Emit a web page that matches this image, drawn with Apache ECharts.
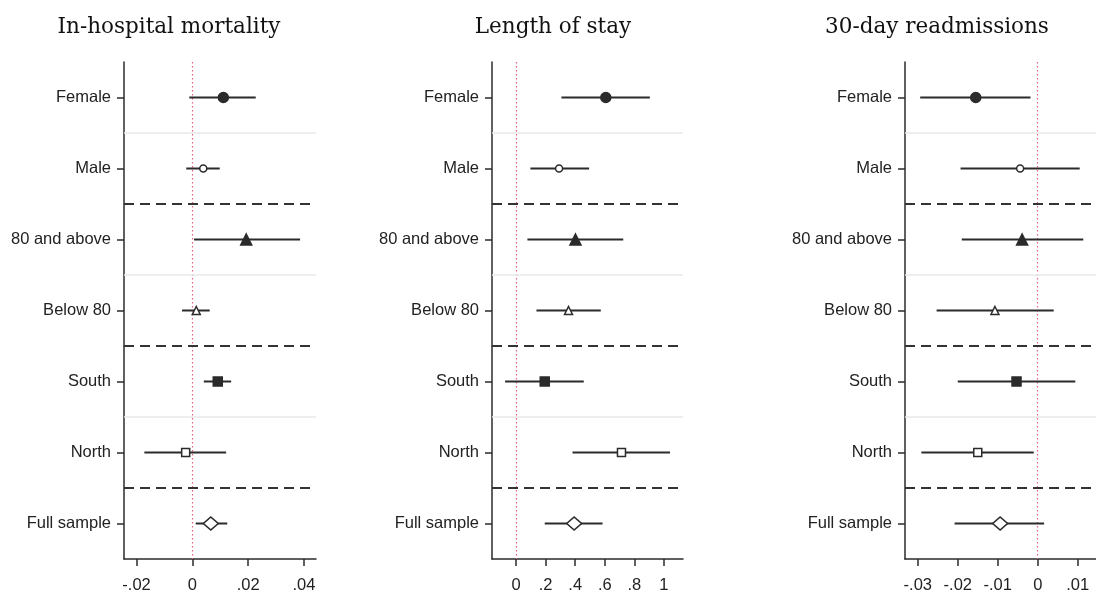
<!DOCTYPE html>
<html>
<head>
<meta charset="utf-8">
<script src="https://cdn.jsdelivr.net/npm/echarts@6/dist/echarts.min.js"></script>
<style>
html,body{margin:0;padding:0;background:#fff;}
#chart{width:1096px;height:597px;}
</style>
</head>
<body>
<div id="chart"></div>
<script>
// ---- data ----
const categories = ['Female', 'Male', '80 and above', 'Below 80', 'South', 'North', 'Full sample'];
const panelTitles = ['In-hospital mortality', 'Length of stay', '30-day readmissions'];

const mortalityEst  = [0.0111, 0.0039, 0.0193, 0.0014, 0.0091, -0.0024, 0.0066];
const mortalityLow  = [-0.0011, -0.0022, 0.0006, -0.0037, 0.0041, -0.0172, 0.0012];
const mortalityHigh = [0.0227, 0.0098, 0.0386, 0.0062, 0.0139, 0.0121, 0.0125];

const stayEst  = [0.607, 0.291, 0.402, 0.355, 0.194, 0.713, 0.393];
const stayLow  = [0.307, 0.097, 0.077, 0.138, -0.074, 0.382, 0.194];
const stayHigh = [0.905, 0.494, 0.725, 0.573, 0.458, 1.041, 0.585];

const readmitEst  = [-0.0155, -0.0044, -0.0039, -0.0107, -0.0053, -0.0150, -0.0094];
const readmitLow  = [-0.0294, -0.0193, -0.0190, -0.0253, -0.0200, -0.0291, -0.0208];
const readmitHigh = [-0.0018, 0.0105, 0.0114, 0.0040, 0.0094, -0.0010, 0.0016];

const mortalityTicks = [-0.02, 0, 0.02, 0.04];
const stayTicks = [0, 0.2, 0.4, 0.6, 0.8, 1];
const readmitTicks = [-0.03, -0.02, -0.01, 0, 0.01];

const mortalityRange = [-0.0245, 0.0443];
const stayRange = [-0.1625, 1.129];
const readmitRange = [-0.0332, 0.01458];

// ---- styles ----
const INK = '#2b2b2b';
const markerStyles = [
  {symbol: 'circle', size: 10, fill: INK},
  {symbol: 'circle', size: 7, fill: '#fff'},
  {symbol: 'triangle', size: 11, fill: INK},
  {symbol: 'triangle', size: 8, fill: '#fff'},
  {symbol: 'rect', size: 9, fill: INK},
  {symbol: 'rect', size: 8, fill: '#fff'},
  {symbol: 'diamond', size: [15, 13], fill: '#fff'}
];

const panels = [
  {est: mortalityEst, low: mortalityLow, high: mortalityHigh, ticks: mortalityTicks, range: mortalityRange,
   grid: {left: 124, top: 62, width: 192, height: 497}, titleX: 169},
  {est: stayEst, low: stayLow, high: stayHigh, ticks: stayTicks, range: stayRange,
   grid: {left: 492, top: 62, width: 191, height: 497}, titleX: 553},
  {est: readmitEst, low: readmitLow, high: readmitHigh, ticks: readmitTicks, range: readmitRange,
   grid: {left: 905, top: 62, width: 191, height: 497}, titleX: 937}
];

function fmt(v) {
  if (Math.abs(v) < 1e-12) return '0';
  const s = parseFloat(Math.abs(v).toFixed(4)).toString().replace(/^0\./, '.');
  return (v < 0 ? '-' : '') + s;
}

const LABEL_FONT = '"Liberation Sans", Arial, sans-serif';

const grids = [], xAxes = [], yAxes = [], series = [], graphics = [];

panels.forEach((p, i) => {
  grids.push(Object.assign({containLabel: false}, p.grid));
  xAxes.push({
    type: 'value', gridIndex: i, min: p.range[0], max: p.range[1],
    axisLine: {show: true, onZero: false, lineStyle: {color: INK, width: 1.5}},
    axisTick: {show: true, length: 7, customValues: p.ticks, lineStyle: {color: INK, width: 1.5}},
    axisLabel: {show: true, customValues: p.ticks, formatter: fmt, margin: 18,
      fontSize: 16.5, fontFamily: LABEL_FONT, color: '#222'},
    splitLine: {show: false}
  });
  yAxes.push({
    type: 'category', gridIndex: i, data: categories, inverse: true,
    axisLine: {show: true, onZero: false, lineStyle: {color: INK, width: 1.5}},
    axisTick: {show: true, length: 7, alignWithLabel: true, lineStyle: {color: INK, width: 1.5}},
    axisLabel: {show: true, margin: 13, fontSize: 16.5, fontFamily: LABEL_FONT, color: '#222'},
    splitLine: {show: false}
  });

  // band separators + zero reference line
  series.push({
    type: 'custom', xAxisIndex: i, yAxisIndex: i, z: 1, silent: true,
    data: categories.slice(0, -1).map((c, k) => [0, k]),
    encode: {x: 0, y: 1},
    renderItem: function (params, api) {
      const k = api.value(1);
      const y1 = api.coord([0, k])[1];
      const y2 = api.coord([0, k + 1])[1];
      const y = (y1 + y2) / 2;
      const cs = params.coordSys;
      const dashed = (k % 2 === 1);
      return {
        type: 'line',
        shape: {x1: cs.x, y1: y, x2: cs.x + cs.width, y2: y},
        style: dashed
          ? {stroke: '#333', lineWidth: 2, lineDash: [10, 6]}
          : {stroke: '#e8e8e8', lineWidth: 1.5}
      };
    },
    markLine: {
      silent: true, symbol: ['none', 'none'], z: 1,
      label: {show: false},
      lineStyle: {color: '#e8607c', type: [1.5, 2.5], width: 1.2},
      data: [{xAxis: 0}]
    }
  });

  // confidence intervals
  series.push({
    type: 'custom', xAxisIndex: i, yAxisIndex: i, z: 3, silent: true,
    data: categories.map((c, k) => [p.low[k], p.high[k], k]),
    encode: {x: [0, 1], y: 2},
    renderItem: function (params, api) {
      const a = api.coord([api.value(0), api.value(2)]);
      const b = api.coord([api.value(1), api.value(2)]);
      return {
        type: 'line',
        shape: {x1: a[0], y1: a[1], x2: b[0], y2: b[1]},
        style: {stroke: INK, lineWidth: 2}
      };
    }
  });

  // point estimates
  series.push({
    type: 'scatter', xAxisIndex: i, yAxisIndex: i, z: 5, silent: true,
    data: categories.map((c, k) => ({
      value: [p.est[k], k],
      symbol: markerStyles[k].symbol,
      symbolSize: markerStyles[k].size,
      itemStyle: {color: markerStyles[k].fill, borderColor: INK, borderWidth: 1.5, opacity: 1}
    }))
  });

  graphics.push({
    type: 'text', x: p.titleX, y: 27,
    style: {text: panelTitles[i], textAlign: 'center', textVerticalAlign: 'middle',
      font: '21.5px "DejaVu Serif", "Liberation Serif", serif', fill: '#111'}
  });
});

const chart = echarts.init(document.getElementById('chart'), null, {renderer: 'canvas'});
chart.setOption({
  animation: false,
  backgroundColor: '#fff',
  grid: grids,
  xAxis: xAxes,
  yAxis: yAxes,
  series: series,
  graphic: graphics
});
</script>
</body>
</html>
